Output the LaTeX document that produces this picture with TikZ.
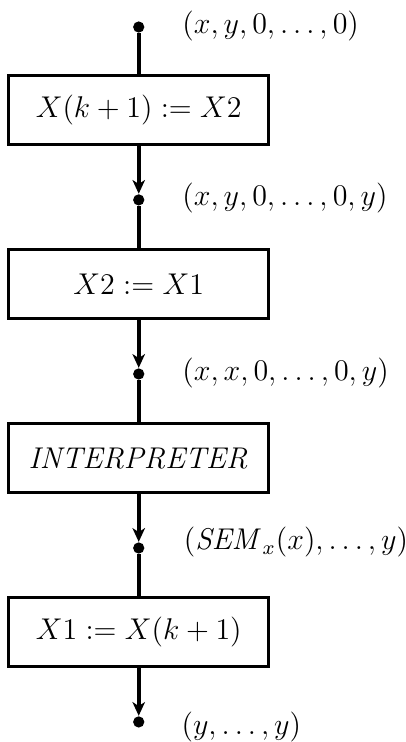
\documentclass[tikz,border=0pt]{standalone}
\usepackage{amsmath,amssymb}
\usepackage{tikz}
\usetikzlibrary{arrows.meta}

\begin{document}
\begin{tikzpicture}[
		every node/.style={font=\fontsize{11.7}{14}\selectfont},
		stepbox/.style={draw, line width=1.2pt, minimum width=3.66cm, minimum height=0.98cm},
		pt/.style={circle, fill, inner sep=0pt, minimum size=4.5pt},
		flow/.style={line width=1.6pt},
		arr/.style={flow, -{Stealth[length=5.5pt,width=5pt,inset=1.6pt]}},
	]
			\useasboundingbox (0,0) rectangle (5.707,-10.43);
			% boxes
			\node[stepbox] (b1) at (1.95,-1.546) {$X(k+1) := X2$};
			\node[stepbox] (b2) at (1.95,-3.992) {$X2 := X1$};
			\node[stepbox] (b3) at (1.95,-6.438) {$\mathit{INTERPRETER}$};
			\node[stepbox] (b4) at (1.95,-8.883) {$X1 := X(k+1)$};
			% points between the steps
			\node[pt] (d0) at (1.95,-0.38) {};
			\node[pt] (d1) at (1.95,-2.81) {};
			\node[pt] (d2) at (1.95,-5.257) {};
			\node[pt] (d3) at (1.95,-7.703) {};
			\node[pt] (d4) at (1.95,-10.148) {};
			% states
			\node[anchor=west] (s0) at (2.44,-0.36) {$(x,y,0,\ldots,0)$};
			\node[anchor=west] (s1) at (2.44,-2.79) {$(x,y,0,\ldots,0,y)$};
			\node[anchor=west] (s2) at (2.44,-5.237) {$(x,x,0,\ldots,0,y)$};
			\node[anchor=west] (s3) at (2.46,-7.62) {$(\mathit{SEM}_x(x),\ldots,y)$};
			\node[anchor=west] (s4) at (2.43,-10.22) {$(y,\ldots,y)$};
			% flow
			\draw[flow] (d0) -- (b1);
			\draw[arr] (b1) -- (d1);
			\draw[flow] (d1) -- (b2);
			\draw[arr] (b2) -- (d2);
			\draw[flow] (d2) -- (b3);
			\draw[arr] (b3) -- (d3);
			\draw[flow] (d3) -- (b4);
			\draw[arr] (b4) -- (d4);
		\end{tikzpicture}
\end{document}
